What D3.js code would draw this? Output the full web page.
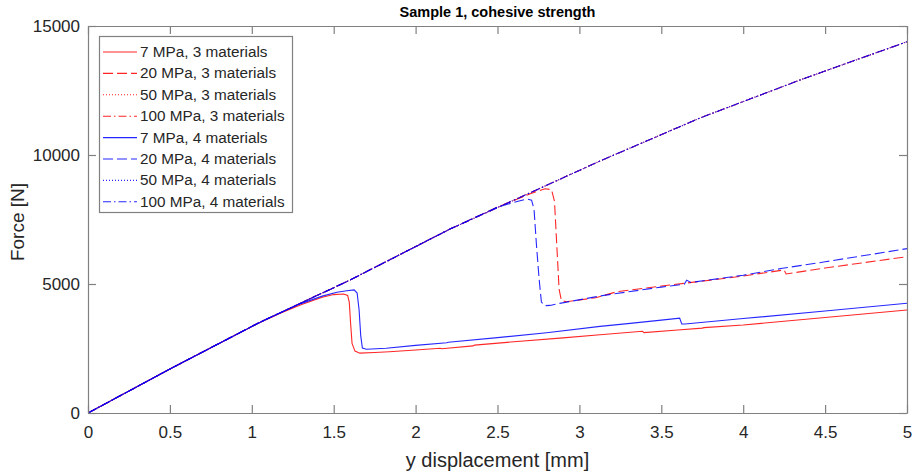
<!DOCTYPE html>
<html>
<head>
<meta charset="utf-8">
<script src="https://cdn.jsdelivr.net/npm/d3@7"></script>
<style>
  html, body { margin: 0; padding: 0; background: #fff; }
  svg { display: block; font-family: "Liberation Sans", Arial, sans-serif; }
</style>
</head>
<body>
<svg id="chart" width="916" height="475"></svg>
<script>
// ---- data (y displacement [mm], force [N]) ----
const xTicks = [0, 0.5, 1, 1.5, 2, 2.5, 3, 3.5, 4, 4.5, 5];
const yTicks = [0, 5000, 10000, 15000];

const red7 = [[0,0],[0.5,1705],[1.04,3480],[1.17,3860],[1.3,4200],[1.43,4490],[1.5,4590],[1.56,4610],[1.585,4560],[1.595,4300],[1.603,3500],[1.612,2700],[1.63,2400],[1.66,2320],[1.75,2345],[1.84,2376],[2.0,2440],[2.15,2510],[2.16,2490],[2.35,2600],[2.36,2630],[2.6,2760],[2.9,2910],[3.126,3035],[3.385,3170],[3.395,3115],[3.6,3215],[3.75,3290],[3.76,3310],[4.0,3410],[4.5,3700],[5,3992]];
const red20 = [[0,0],[0.5,1705],[1.04,3488],[1.6,5155],[2.21,7130],[2.5,7980],[2.7,8500],[2.79,8690],[2.83,8660],[2.848,8200],[2.862,6500],[2.876,4800],[2.89,4360],[2.92,4310],[3.0,4380],[3.1,4470],[3.23,4702],[3.5,4920],[3.8,5150],[4.0,5310],[4.25,5545],[4.262,5390],[4.5,5620],[5,6058]];
const red50 = [[0,0],[0.5,1705],[1.04,3488],[1.6,5155],[2.21,7130],[2.656,8411],[3.126,9767],[3.736,11434],[4.347,12907],[5,14391]];
const red100 = [[0,0],[0.5,1705],[1.04,3488],[1.6,5155],[2.21,7130],[2.656,8411],[3.126,9767],[3.736,11434],[4.347,12907],[5,14391]];
const blue7 = [[0,0],[0.5,1705],[1.04,3480],[1.17,3880],[1.3,4240],[1.43,4530],[1.52,4680],[1.58,4740],[1.625,4770],[1.643,4650],[1.655,4000],[1.665,3000],[1.675,2520],[1.70,2470],[1.82,2508],[2.0,2620],[2.19,2725],[2.2,2745],[2.5,2920],[2.8,3110],[3.126,3356],[3.31,3475],[3.5,3600],[3.612,3675],[3.625,3450],[3.645,3450],[4.0,3660],[4.5,3955],[5,4252]];
const blue20 = [[0,0],[0.5,1705],[1.04,3488],[1.6,5155],[2.21,7130],[2.5,7980],[2.62,8200],[2.68,8290],[2.708,8250],[2.723,7900],[2.738,6500],[2.754,5200],[2.768,4300],[2.79,4160],[2.82,4170],[2.88,4250],[3.126,4535],[3.3,4700],[3.5,4880],[3.64,4990],[3.655,5150],[3.68,5060],[4.0,5340],[4.24,5608],[4.5,5860],[5,6370]];
const blue50 = [[0,0],[0.5,1705],[1.04,3488],[1.6,5155],[2.21,7130],[2.656,8411],[3.126,9767],[3.736,11434],[4.347,12907],[5,14391]];
const blue100 = [[0,0],[0.5,1705],[1.04,3488],[1.6,5155],[2.21,7130],[2.656,8411],[3.126,9767],[3.736,11434],[4.347,12907],[5,14391]];

const seriesNames = ["7 MPa, 3 materials","20 MPa, 3 materials","50 MPa, 3 materials","100 MPa, 3 materials",
                     "7 MPa, 4 materials","20 MPa, 4 materials","50 MPa, 4 materials","100 MPa, 4 materials"];
const seriesData = [red7, red20, red50, red100, blue7, blue20, blue50, blue100];

// ---- styles ----
const colors = ["#ff0000","#ff0000","#ff0000","#ff0000","#0000ff","#0000ff","#0000ff","#0000ff"];
const dashes = [null, "10,4", "1,2", "8,3,1.5,3", null, "10,4", "1,2", "8,3,1.5,3"];

const svg = d3.select("#chart");
const L = 88, R = 907, T = 26, B = 413;
const x = d3.scaleLinear().domain([0, 5]).range([L, R]);
const y = d3.scaleLinear().domain([0, 15000]).range([B, T]);
const axisColor = "#808080";
const textColor = "#262626";

// lines
svg.append("clipPath").attr("id", "clip").append("rect")
  .attr("x", L).attr("y", T).attr("width", R - L).attr("height", B - T);
const line = d3.line().x(d => x(d[0])).y(d => y(d[1]));
const g = svg.append("g").attr("clip-path", "url(#clip)");
seriesData.forEach((d, i) => {
  g.append("path").datum(d).attr("d", line)
    .attr("fill", "none").attr("stroke", colors[i]).attr("stroke-width", 1.1)
    .attr("stroke-dasharray", dashes[i]).attr("opacity", 0.85);
});

// axes
const tickLen = 8;
const axB = svg.append("g").attr("transform", `translate(0,${B})`)
  .call(d3.axisBottom(x).tickValues(xTicks).tickFormat(d3.format("")).tickSizeInner(-tickLen).tickSizeOuter(0).tickPadding(13));
const axT = svg.append("g").attr("transform", `translate(0,${T})`)
  .call(d3.axisTop(x).tickValues(xTicks).tickFormat("").tickSizeInner(-tickLen).tickSizeOuter(0));
const axL = svg.append("g").attr("transform", `translate(${L},0)`)
  .call(d3.axisLeft(y).tickValues(yTicks).tickFormat(d3.format("")).tickSizeInner(-tickLen).tickSizeOuter(0).tickPadding(8));
const axR = svg.append("g").attr("transform", `translate(${R},0)`)
  .call(d3.axisRight(y).tickValues(yTicks).tickFormat("").tickSizeInner(-tickLen).tickSizeOuter(0));
[axB, axT, axL, axR].forEach(a => {
  a.select(".domain").attr("stroke", axisColor).attr("stroke-width", 1.2);
  a.selectAll(".tick line").attr("stroke", axisColor).attr("stroke-width", 1.2);
  a.selectAll(".tick text").attr("fill", textColor).style("font-size", "17px")
    .style("font-family", '"Liberation Sans", Arial, sans-serif');
});

// titles
svg.append("text").attr("x", (L + R) / 2).attr("y", 17).attr("text-anchor", "middle")
  .attr("fill", "#000").style("font-size", "14.5px").style("font-weight", "bold")
  .text("Sample 1, cohesive strength");
svg.append("text").attr("x", (L + R) / 2).attr("y", 467).attr("text-anchor", "middle")
  .attr("fill", textColor).style("font-size", "20px").text("y displacement [mm]");
svg.append("text").attr("transform", `translate(24,222) rotate(-90)`)
  .attr("text-anchor", "middle").attr("fill", textColor).style("font-size", "19px").text("Force [N]");

// legend
const lg = svg.append("g");
lg.append("rect").attr("x", 99.5).attr("y", 36.5).attr("width", 193).attr("height", 176)
  .attr("fill", "#fff").attr("stroke", axisColor).attr("stroke-width", 1.2);
seriesNames.forEach((name, i) => {
  const cy = 52 + i * 21.4;
  lg.append("line").attr("x1", 103).attr("x2", 137).attr("y1", cy).attr("y2", cy)
    .attr("stroke", colors[i]).attr("stroke-width", 1.1).attr("stroke-dasharray", dashes[i]).attr("opacity", 0.85);
  lg.append("text").attr("x", 140).attr("y", cy + 5).attr("fill", textColor)
    .style("font-size", "15.3px").text(name);
});
</script>
</body>
</html>
